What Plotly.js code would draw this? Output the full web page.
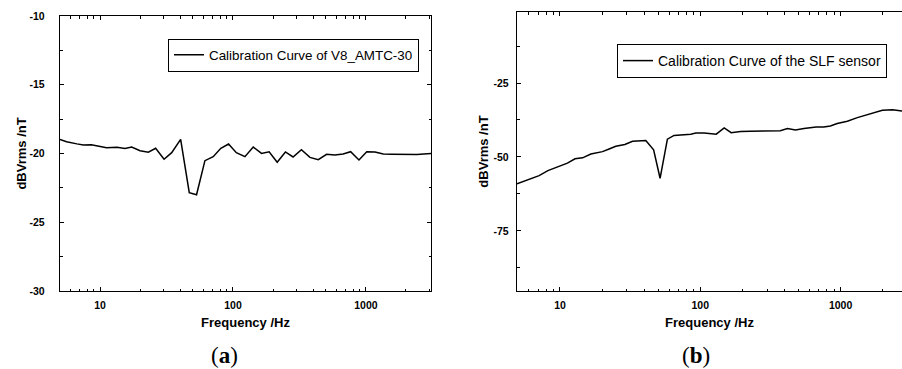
<!DOCTYPE html>
<html>
<head>
<meta charset="utf-8">
<script src="https://cdn.plot.ly/plotly-3.0.1.min.js"></script>
<style>html,body{margin:0;padding:0;overflow:hidden;background:#fff}</style>
</head>
<body>
<div id="chart" style="width:902px;height:369px"></div>
<script>
// Panel (a): V8 AMTC-30 calibration curve
const freqA = [5, 5.6, 6.7, 7.5, 8.6, 10, 11.2, 13.4, 15.4, 17.3, 20.0, 23.1, 26.2, 30.3, 34.6, 40.4, 46.9, 53.2, 61.5, 71, 81, 92.6, 106, 123, 142, 164, 187, 215, 248, 283, 327, 379, 438, 506, 583, 674, 767, 886, 1014, 1170, 1350, 1565, 1808, 2090, 2415, 3085];
const valA = [-18.97, -19.14, -19.3, -19.38, -19.36, -19.5, -19.58, -19.55, -19.63, -19.53, -19.8, -19.9, -19.62, -20.42, -19.94, -18.97, -22.85, -23.0, -20.52, -20.23, -19.62, -19.31, -19.94, -20.23, -19.53, -19.99, -19.87, -20.64, -19.89, -20.25, -19.72, -20.28, -20.45, -20.06, -20.11, -20.04, -19.87, -20.47, -19.87, -19.89, -20.04, -20.06, -20.06, -20.06, -20.08, -20.0];
// Panel (b): SLF sensor calibration curve
const freqB = [4.94, 5.89, 7.1, 8.2, 9.6, 11.3, 12.8, 14.5, 16.6, 20.1, 22.4, 25, 29, 32.9, 40.9, 46.5, 51.7, 58.3, 65, 76.6, 85.6, 93, 106.6, 130, 148, 166, 194, 228, 277, 372, 418, 477, 548, 670, 758, 846, 946, 1117, 1317, 1553, 1736, 1985, 2348, 2740];
const valB = [-59.1, -57.8, -56.3, -54.6, -53.3, -52.1, -50.6, -50.3, -49.0, -48.2, -47.3, -46.4, -45.8, -44.7, -44.4, -47.6, -57.2, -44.0, -42.7, -42.5, -42.3, -41.9, -41.9, -42.3, -40.2, -41.8, -41.4, -41.3, -41.3, -41.1, -40.4, -40.9, -40.4, -39.9, -39.9, -39.5, -38.7, -37.9, -36.7, -35.6, -34.9, -34.2, -34.0, -34.5];
const nameA = "Calibration Curve of V8_AMTC-30";
const nameB = "Calibration Curve of the SLF sensor";
const xTicks = [10, 100, 1000];
const yTicksA = [-30, -25, -20, -15, -10];
const yTicksB = [-75, -50, -25];

const sans = "Liberation Sans, Arial, sans-serif";
const tickFont = {family: sans, size: 10.5, color: "#000"};
const titleFont = {family: sans, size: 13, color: "#000", weight: 700};
const boldLabel = v => "<b>" + String(v) + "</b>";

function xAxis(domain, range, mirror, anchor) {
  return {
    type: "log", domain: domain, range: range, anchor: anchor,
    tickvals: xTicks, ticktext: xTicks.map(boldLabel),
    ticks: "inside", ticklen: 4, tickwidth: 1, tickcolor: "#000",
    minor: {dtick: "D1", ticks: "inside", ticklen: 2.5, tickwidth: 1, tickcolor: "#000", showgrid: false},
    showline: true, linecolor: "#000", linewidth: 1.2, mirror: mirror,
    showgrid: false, zeroline: false, tickfont: tickFont, ticklabelstandoff: 4,
    title: {text: "Frequency /Hz", font: titleFont, standoff: 8}
  };
}

const data = [
  {x: freqA, y: valA, type: "scatter", mode: "lines", name: nameA,
   line: {color: "#000", width: 1.5}, xaxis: "x", yaxis: "y", legend: "legend"},
  {x: freqB, y: valB, type: "scatter", mode: "lines", name: nameB,
   line: {color: "#000", width: 1.5}, xaxis: "x2", yaxis: "y2", legend: "legend2"}
];

const layout = {
  width: 902, height: 369, autosize: false,
  margin: {l: 0, r: 0, t: 0, b: 0},
  paper_bgcolor: "#fff", plot_bgcolor: "#fff",
  showlegend: true,
  xaxis: xAxis([60/902, 431/902], [Math.log10(5), Math.log10(3085)], "allticks", "y"),
  yaxis: {
    domain: [1 - 291/369, 1 - 16/369], range: [-30, -10], anchor: "x",
    tickvals: yTicksA, ticktext: yTicksA.map(boldLabel),
    ticks: "inside", ticklen: 4, tickcolor: "#000",
    minor: {dtick: 2.5, ticks: "inside", ticklen: 2.5, tickcolor: "#000", showgrid: false},
    showline: true, linecolor: "#000", linewidth: 1.2, mirror: "allticks",
    showgrid: false, zeroline: false, tickfont: tickFont, ticklabelstandoff: 12,
    title: {text: "dBVrms /nT", font: titleFont, standoff: 0}
  },
  xaxis2: xAxis([517/902, 1], [Math.log10(4.94), Math.log10(2740)], "ticks", "y2"),
  yaxis2: {
    domain: [1 - 291/369, 1 - 12/369], range: [-95.3, -1], anchor: "x2",
    tickvals: yTicksB, ticktext: yTicksB.map(boldLabel),
    ticks: "inside", ticklen: 4, tickcolor: "#000",
    minor: {dtick: 12.5, tick0: 0, ticks: "inside", ticklen: 2.5, tickcolor: "#000", showgrid: false},
    showline: true, linecolor: "#000", linewidth: 1.2, mirror: false,
    showgrid: false, zeroline: false, tickfont: tickFont, ticklabelstandoff: 5,
    title: {text: "dBVrms /nT", font: titleFont, standoff: 2}
  },
  legend: {
    x: 168/902, y: 1 - 55/369, xanchor: "left", yanchor: "middle",
    bordercolor: "#000", borderwidth: 1, bgcolor: "#fff",
    font: {family: sans, size: 13.4, color: "#000"}, itemwidth: 30
  },
  legend2: {
    x: 617/902, y: 1 - 61/369, xanchor: "left", yanchor: "middle",
    bordercolor: "#000", borderwidth: 1, bgcolor: "#fff",
    font: {family: sans, size: 14, color: "#000"}, itemwidth: 30
  },
  annotations: [
    {text: "(<b>a</b>)", xref: "paper", yref: "paper", x: 224/902, y: 1 - 355/369,
     xanchor: "center", yanchor: "middle", showarrow: false,
     font: {family: "Liberation Serif, serif", size: 23, color: "#000"}},
    {text: "(<b>b</b>)", xref: "paper", yref: "paper", x: 696/902, y: 1 - 355/369,
     xanchor: "center", yanchor: "middle", showarrow: false,
     font: {family: "Liberation Serif, serif", size: 23, color: "#000"}}
  ]
};

Plotly.newPlot("chart", data, layout, {staticPlot: true, displayModeBar: false});
</script>
</body>
</html>
